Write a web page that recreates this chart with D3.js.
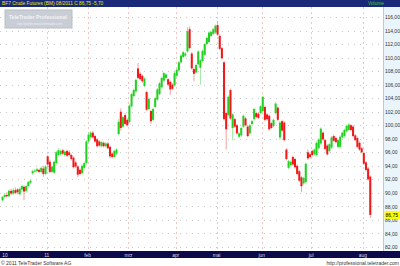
<!DOCTYPE html>
<html><head><meta charset="utf-8">
<script src="https://cdn.jsdelivr.net/npm/d3@7/dist/d3.min.js"></script>
<style>
html,body{margin:0;padding:0;background:#fff;overflow:hidden}
svg{display:block;font-family:"Liberation Sans",Arial,sans-serif}
</style></head>
<body>
<script>
// ---- data ----
const monthLabels = ["10","11","feb","mrz","apr","mai","jun","jul","aug"];
const monthCandles = [21,19,19,22,19,21,23,24,4];
const yTicks = [82,84,86,88,90,92,94,96,98,100,102,104,106,108,110,112,114,116];
const lastPrice = 86.75;
const titleText = "BF7 Crude Futures (BM) 08/2011  C  86,75  -5,70";
const open = [88.9,89.4,89.7,89.5,90.3,89.9,90.4,90.5,89.8,90.5,90.9,90.3,91.0,91.5,92.9,93.2,93.2,93.4,93.1,93.6,92.8,
95.4,94.6,93.1,93.0,94.4,95.6,95.7,96.3,95.6,96.2,96.0,95.6,95.2,94.5,93.9,93.4,92.9,93.7,94.4,
97.6,98.2,98.9,98.4,97.9,97.6,96.9,97.4,96.9,97.3,96.8,95.8,95.3,95.8,98.7,102.0,99.8,101.5,100.8,
100.5,102.8,104.3,105.0,108.4,107.6,107.3,105.8,104.9,102.4,102.1,100.8,102.7,103.8,104.6,105.6,106.6,107.0,106.8,106.4,106.0,105.9,
107.3,108.1,109.3,110.1,110.3,110.9,114.2,110.6,108.3,107.8,109.0,108.5,109.5,110.4,112.0,112.3,113.2,113.5,113.7,
114.8,113.2,111.4,109.3,101.8,101.5,105.2,99.6,100.9,100.0,98.3,98.5,99.8,101.0,99.8,98.8,100.2,100.9,101.8,101.7,101.8,
102.1,102.7,101.6,101.4,100.3,99.9,101.8,102.6,98.2,100.6,100.4,96.4,93.7,94.1,95.3,95.0,94.0,93.2,92.3,91.4,91.6,96.0,95.7,
96.2,95.7,95.6,96.6,97.3,98.9,97.8,97.0,96.2,96.7,98.4,98.1,96.8,96.8,98.2,98.4,99.1,99.3,100.0,99.8,98.5,98.1,97.4,96.6,
95.9,94.5,93.6,92.4];
const high = [89.6,90.0,90.1,90.5,90.6,90.7,90.8,90.7,90.8,91.2,91.1,91.2,91.8,92.0,93.4,93.5,93.7,93.6,93.9,94.0,94.1,
95.6,94.9,94.1,94.8,96.2,96.6,96.4,96.5,96.3,96.4,96.3,95.8,95.4,94.7,94.1,93.6,94.2,94.6,97.8,
99.0,99.1,99.2,98.6,98.1,97.8,97.7,97.6,97.5,97.5,97.0,96.0,96.4,96.6,100.9,102.5,101.4,101.8,101.0,
103.1,104.8,105.4,106.9,109.2,107.9,107.5,107.1,105.1,104.1,102.3,102.6,104.2,105.5,106.4,107.2,107.9,107.7,107.0,106.6,106.2,107.9,
108.4,109.5,110.5,111.0,110.8,114.5,114.6,110.8,108.5,109.1,111.1,109.8,111.2,112.2,113.1,113.9,114.0,114.4,114.9,
115.4,113.4,111.6,109.5,102.0,104.4,105.4,101.8,101.1,100.2,99.0,99.8,101.6,101.2,100.0,100.2,100.8,102.6,102.0,101.9,103.0,
104.4,102.9,101.8,101.6,100.5,101.0,103.4,102.8,100.6,100.8,100.6,96.6,94.9,94.8,95.5,95.2,94.2,93.4,92.5,92.4,94.5,96.4,96.0,
96.4,96.6,97.6,98.1,99.7,99.1,98.0,97.2,97.4,98.4,98.6,98.3,98.0,98.5,99.1,99.5,100.1,100.3,100.2,100.0,98.7,98.3,97.6,96.8,
96.1,94.7,93.8,92.6];
const low = [88.7,89.2,89.3,89.4,89.6,89.7,89.8,89.8,89.6,90.1,88.9,90.0,90.8,91.3,92.7,93.0,93.0,92.9,92.9,92.4,92.6,
93.8,92.9,92.9,92.8,94.2,95.4,95.5,95.6,95.4,95.3,95.4,94.8,93.6,93.7,92.3,92.6,92.7,93.5,94.2,
97.4,98.0,98.0,97.4,96.7,96.8,96.7,96.7,96.7,96.4,95.1,95.1,95.1,95.6,98.5,99.2,99.6,100.0,99.8,
100.3,102.6,104.1,104.8,106.8,106.6,106.3,105.6,102.1,102.2,100.2,100.6,102.5,103.6,104.4,105.4,106.4,106.8,105.8,104.5,105.2,105.7,
107.1,107.9,109.1,109.9,110.1,110.7,111.2,108.2,106.5,107.6,108.8,106.0,109.3,110.2,111.8,112.1,113.0,113.3,113.5,
113.2,111.1,109.7,100.7,96.4,101.3,100.8,97.8,99.6,98.6,98.1,98.3,99.6,99.8,98.2,98.6,100.0,100.7,101.0,100.9,101.6,
101.9,100.6,100.7,99.2,99.4,99.7,101.6,100.6,97.8,99.0,97.6,94.8,93.5,93.9,94.0,93.6,92.6,91.6,90.1,91.2,91.4,94.9,95.1,
95.4,95.5,95.4,96.4,97.1,97.7,96.3,95.5,96.0,96.5,97.5,97.3,96.6,96.6,98.0,98.2,98.9,99.1,99.1,98.2,97.6,96.6,96.2,95.8,
94.1,93.2,91.8,86.3];
const close = [89.4,89.7,89.5,90.3,89.9,90.4,90.0,90.1,90.6,91.0,90.2,91.0,91.6,91.8,93.2,93.3,93.5,93.1,93.7,92.8,93.9,
94.2,93.1,93.9,94.6,96.0,96.3,96.2,95.8,96.1,95.5,95.6,95.0,93.8,93.9,92.7,92.8,94.0,94.4,97.6,
98.6,98.9,98.2,97.6,96.9,97.0,97.5,96.9,97.3,96.6,95.4,95.3,96.2,96.4,100.5,99.6,101.2,100.2,100.0,
102.9,104.6,105.2,106.7,107.0,106.8,106.5,106.9,102.3,103.9,100.6,102.4,104.0,105.3,106.2,107.0,107.7,107.5,106.0,105.3,105.4,107.7,
108.2,109.3,110.3,110.8,110.6,113.9,111.4,108.4,107.6,108.9,110.9,109.6,111.0,112.0,112.9,113.7,113.8,114.2,114.7,
113.4,111.3,109.9,100.9,99.4,104.2,101.0,101.6,99.8,98.8,98.8,99.6,101.4,100.0,98.4,100.0,100.6,102.4,101.2,101.1,102.8,
104.2,100.8,100.9,99.4,99.6,100.8,103.2,100.8,100.4,99.2,97.8,95.0,94.7,94.6,94.2,93.8,92.8,91.8,91.0,92.2,94.3,95.1,95.3,
95.6,96.4,97.4,97.9,99.5,97.9,96.5,95.7,97.2,98.2,97.7,97.5,97.8,98.3,98.9,99.3,99.9,100.1,99.3,98.4,97.8,96.8,96.4,96.0,
94.3,93.4,92.0,86.75];

// ---- build ----
const W = 400, H = 266;
const plotTop = 7, plotBottom = 251, plotRight = 383.5;
const N = close.length;
const candles = d3.range(N).map(i => ({i, o: open[i], h: high[i], l: low[i], c: close[i]}));
const monthStart = [];
monthCandles.reduce((acc, n) => { monthStart.push(acc); return acc + n; }, 0);

const svg = d3.select("body").append("svg").attr("width", W).attr("height", H);

const x = d3.scaleBand().domain(d3.range(N)).range([1.5, 1.5 + N * 2.15]).paddingInner(0.05);
const y = d3.scaleLinear().domain([82, 116]).range([247, 17]);

// background
svg.append("rect").attr("x",0).attr("y",0).attr("width",W).attr("height",H).attr("fill","#ffffff");
// right panel
svg.append("rect").attr("x",plotRight).attr("y",plotTop).attr("width",W-plotRight).attr("height",plotBottom-plotTop).attr("fill","#e9f5fb");
svg.append("line").attr("x1",plotRight).attr("x2",plotRight).attr("y1",plotTop).attr("y2",plotBottom).attr("stroke","#d8c88c").attr("stroke-width",1);

// horizontal grid
svg.append("g").selectAll("line").data(yTicks).join("line")
  .attr("x1",0).attr("x2",plotRight-0.5)
  .attr("y1",d=>Math.round(y(d))+0.5).attr("y2",d=>Math.round(y(d))+0.5)
  .attr("stroke","#c9c9c9").attr("stroke-width",1).attr("stroke-dasharray","1,5");

// vertical month grid
svg.append("g").selectAll("line").data(monthStart.slice(1)).join("line")
  .attr("x1",d=>Math.round(x(d))+0.5).attr("x2",d=>Math.round(x(d))+0.5)
  .attr("y1",plotTop).attr("y2",plotBottom)
  .attr("stroke","#f2c4c4").attr("stroke-width",1).attr("stroke-dasharray","2,3");

// logo box
const logo = svg.append("g");
logo.append("rect").attr("x",5).attr("y",10).attr("width",67).attr("height",18).attr("fill","#c9cdd6").attr("stroke","#b9bdc6");
logo.append("text").attr("x",9).attr("y",18.5).attr("font-size",6.2).attr("font-weight","bold")
  .attr("fill","#f4f4f6").attr("textLength",58).attr("lengthAdjust","spacingAndGlyphs").text("TeleTrader Professional");
logo.append("text").attr("x",17).attr("y",25).attr("font-size",3.4)
  .attr("fill","#f0f0f4").attr("textLength",45).attr("lengthAdjust","spacingAndGlyphs").text("http://professional.teletrader.com");

// candles
const up = "#22d022", down = "#f01818";
const g = svg.append("g");
const bw = x.bandwidth();
g.selectAll("line.wick").data(candles).join("line").attr("class","wick")
  .attr("x1",d=>x(d.i)+bw/2).attr("x2",d=>x(d.i)+bw/2)
  .attr("y1",d=>y(d.h)).attr("y2",d=>y(d.l))
  .attr("stroke",d=>d.c>=d.o?"#9be89b":"#f4a0a0").attr("stroke-width",1);
g.selectAll("rect.body").data(candles).join("rect").attr("class","body")
  .attr("x",d=>x(d.i)).attr("width",bw)
  .attr("y",d=>y(Math.max(d.o,d.c)))
  .attr("height",d=>Math.max(1, Math.abs(y(d.o)-y(d.c))))
  .attr("fill",d=>d.c>=d.o?up:down);

// y axis labels
const yAxis = d3.axisRight(y).tickValues(yTicks).tickSize(0).tickPadding(1.5)
  .tickFormat(d => d3.format(".2f")(d).replace(".", ","));
const ya = svg.append("g").attr("transform",`translate(${plotRight},0)`).call(yAxis);
ya.select(".domain").remove();
ya.selectAll("text").attr("font-size",5).attr("fill","#333").attr("font-family","Liberation Sans, Arial, sans-serif");

// last price tag
svg.append("rect").attr("x",plotRight+1).attr("y",y(lastPrice)-4).attr("width",W-plotRight-1).attr("height",8).attr("fill","#ffff00");
svg.append("text").attr("x",plotRight+2).attr("y",y(lastPrice)).attr("dy","0.35em").attr("font-size",5).attr("fill","#000").text(d3.format(".2f")(lastPrice).replace(".", ","));

// top bar
svg.append("rect").attr("x",0).attr("y",0).attr("width",W).attr("height",plotTop).attr("fill","#1b2a78");
svg.append("text").attr("x",2).attr("y",5.3).attr("font-size",4.8).attr("fill","#e6e60a").text(titleText);
svg.append("text").attr("x",368).attr("y",5.3).attr("font-size",4.8).attr("fill","#3ad13a").text("Volume");

// bottom bar with month axis
svg.append("rect").attr("x",0).attr("y",plotBottom).attr("width",W).attr("height",7).attr("fill","#0b0b4c");
const xAxis = d3.axisBottom(x).tickValues(monthStart).tickSize(0).tickPadding(0)
  .tickFormat(d => monthLabels[monthStart.indexOf(d)]);
const xa = svg.append("g").attr("transform",`translate(0,${plotBottom})`).call(xAxis);
xa.select(".domain").remove();
xa.selectAll(".tick").attr("transform", d => `translate(${d===0 ? 5 : x(d)},0)`);
xa.selectAll("text").attr("y",5.6).attr("dy",0).attr("font-size",4.8).attr("fill","#d8d8e8");

// footer
svg.append("text").attr("x",1).attr("y",264.5).attr("font-size",5).attr("fill","#333").text("© 2011 TeleTrader Software AG");
svg.append("text").attr("x",399).attr("y",264.5).attr("text-anchor","end").attr("font-size",5).attr("fill","#333").text("http://professional.teletrader.com");
</script>
</body></html>
